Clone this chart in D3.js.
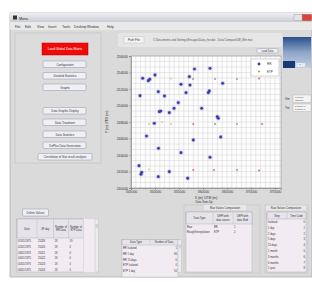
<!DOCTYPE html>
<html lang="en">
  <head>
    <meta charset="utf-8">
    <title>Menu</title>
    <script src="https://d3js.org/d3.v7.min.js"></script>
    <style>
      body { margin: 0; background: #fff; }
      text { font-family: "Liberation Sans", Arial, sans-serif; }
    </style>
  </head>
  <body>
    <div id="chart"></div>
    <script>

// scatter data (UTM coordinates)
var rrX = [347440, 348600, 348900, 350000, 358230, 361460, 357150, 355420, 357290, 364100,
           346880, 350690, 351980, 356460, 361100, 361310, 354850, 353960, 352980, 350900,
           351190, 359730, 363190, 362980, 349850, 348230, 357980, 363690, 350730, 355420,
           361460, 346670, 347080, 347230, 350690, 352980, 356810];
var rrY = [253300, 253000, 253180, 253700, 254420, 254510, 253490, 252570, 252480, 252690,
           251190, 251670, 251150, 251550, 251550, 251760, 250340, 249660, 249130, 249250,
           249330, 249660, 248450, 248640, 247840, 246300, 245820, 246180, 244810, 244280,
           243720, 242700, 241660, 241900, 241370, 241980, 241180];

var etpX = [371670, 357980, 372290, 357980, 362290, 371670];
var etpY = [253270, 247760, 247760, 242180, 242180, 242120];

var otherX = [353330, 357920, 362500, 367080, 348750, 351460, 353330, 362500, 367080, 348750, 367080];
var otherY = [253270, 253210, 253210, 253210, 247760, 248000, 247760, 247760, 247760, 242240, 242180];

var xTicks = [345000, 350000, 355000, 360000, 365000, 370000, 375000];
var yTicks = [240000, 242000, 244000, 246000, 248000, 250000, 252000, 254000, 256000];

var menuItems = ["File", "Edit", "View", "Insert", "Tools", "Desktop", "Window", "Help"];
var leftButtons = ["Configuration", "Detailed Statistics", "Graphs", "",
                   "Data Graphic Display", "Data Treatment", "Data Statistics",
                   "DePlus Data Generation", "Correlation of Stat result analysis"];

var dayHeader = ["Date", "XF day", "Number of RR Data", "Number of ETP Data"];
var dayRows = [["01/01/1975", "25284", "18", "19"],
               ["02/01/1975", "25020", "18", "0"],
               ["03/01/1975", "25021", "18", "0"],
               ["04/01/1975", "25022", "18", "0"],
               ["05/01/1975", "25023", "18", "0"],
               ["06/01/1975", "25024", "18", "0"]];

var typeHeader = ["Data Type", "Number of Data"];
var typeRows = [["RR   Isolated", "1"], ["RR     1 day", "96"], ["RR   15 days", "0"],
                ["ETP  Isolated", "0"], ["ETP    1 day", "10"]];

var maxHeader = ["Data Type", "DEPI with data source", "DEPI with data filled"];
var maxRows = [["Raw", "RR", "1"], ["Rough/Interpolation", "ETP", "2"]];

var stepHeader = ["Step", "Time Code"];
var stepRows = [["Isolated", "0"], ["1 day", "1"], ["2 days", "2"], ["5 days", "3"],
                ["15 days", "4"], ["1 month", "5"], ["3 months", "6"], ["6 months", "7"],
                ["1 year", "8"]];

var W = 312, H = 282;
var svg = d3.select("#chart").append("svg")
    .attr("width", W)
    .attr("height", H);

// window frame
svg.append("rect").attr("x", 10).attr("y", 13).attr("width", 302).attr("height", 264)
    .attr("fill", "#dadada").attr("stroke", "#9a9a9a").attr("stroke-width", 0.6);

var tg = svg.append("defs").append("linearGradient").attr("id", "tbar")
    .attr("x1", 0).attr("y1", 0).attr("x2", 0).attr("y2", 1);
tg.append("stop").attr("offset", 0).attr("stop-color", "#eef0f4");
tg.append("stop").attr("offset", 1).attr("stop-color", "#c9ccd4");
svg.append("rect").attr("x", 10).attr("y", 13).attr("width", 302).attr("height", 9)
    .attr("fill", "url(#tbar)");
svg.append("rect").attr("x", 13).attr("y", 15.5).attr("width", 4).attr("height", 4).attr("fill", "#333");
svg.append("text").attr("x", 19).attr("y", 19.5).attr("font-size", 3.6).attr("fill", "#222").text("Menu");
svg.append("rect").attr("x", 294).attr("y", 14.5).attr("width", 8).attr("height", 6)
    .attr("fill", "#e4e4e8").attr("stroke", "#999").attr("stroke-width", 0.4);
svg.append("rect").attr("x", 302.5).attr("y", 14.5).attr("width", 9).attr("height", 6)
    .attr("fill", "#d8443a").attr("stroke", "#a33").attr("stroke-width", 0.4);

// menu bar
svg.append("rect").attr("x", 10).attr("y", 22).attr("width", 302).attr("height", 8).attr("fill", "#e9e9e9");
var menuX = [15, 25, 37, 48, 62, 74, 87, 107];
svg.append("g").selectAll("text").data(menuItems).enter().append("text")
    .attr("x", (d, i) => menuX[i]).attr("y", 27.5)
    .attr("font-size", 3.4).attr("fill", "#333").text(d => d);

// left button panel
svg.append("rect").attr("x", 15).attr("y", 33).attr("width", 86).attr("height", 130)
    .attr("fill", "#dcdcdc").attr("stroke", "#b8b8b8").attr("stroke-width", 0.5);
svg.append("rect").attr("x", 42).attr("y", 43).attr("width", 46).attr("height", 12)
    .attr("fill", "#f00a0a").attr("stroke", "#b00").attr("stroke-width", 0.5);
svg.append("text").attr("x", 65).attr("y", 50.3).attr("text-anchor", "middle")
    .attr("font-size", 3.2).attr("fill", "#fff").text("Load Global Data Matrix");

var btnY = [61, 72.5, 84, 0, 107.5, 119, 131, 142, 153.5];
var btnG = svg.append("g").selectAll("g").data(leftButtons).enter()
    .filter(d => d !== "")
    .append("g");
btnG.append("rect")
    .attr("x", d => d.length > 24 ? 38 : 43)
    .attr("y", d => btnY[leftButtons.indexOf(d)])
    .attr("width", d => d.length > 24 ? 54 : 43)
    .attr("height", 6.5).attr("rx", 1)
    .attr("fill", "#eef0f6").attr("stroke", "#8a8a99").attr("stroke-width", 0.45);
btnG.append("text")
    .attr("x", 65)
    .attr("y", d => btnY[leftButtons.indexOf(d)] + 4.5)
    .attr("text-anchor", "middle").attr("font-size", 2.9).attr("fill", "#333")
    .text(d => d);

// path bar
svg.append("rect").attr("x", 118).attr("y", 33).attr("width", 164).attr("height", 14).attr("fill", "#e6e6e6");
svg.append("rect").attr("x", 124).attr("y", 36.5).attr("width", 20).attr("height", 6.5)
    .attr("fill", "#f4f4f4").attr("stroke", "#bbb").attr("stroke-width", 0.4);
svg.append("text").attr("x", 134).attr("y", 41).attr("text-anchor", "middle")
    .attr("font-size", 3).attr("fill", "#333").text("Path File");
svg.append("text").attr("x", 153).attr("y", 41).attr("font-size", 2.8).attr("fill", "#555")
    .text("C:\\Documents and Settings\\Ensayos\\Data_hor.dat - Data Compare\\DB_Mer.mat");
svg.append("rect").attr("x", 257).attr("y", 48.5).attr("width", 21).attr("height", 4.5).attr("rx", 1)
    .attr("fill", "#eef0f6").attr("stroke", "#8a8a99").attr("stroke-width", 0.4);
svg.append("text").attr("x", 267.5).attr("y", 52).attr("text-anchor", "middle")
    .attr("font-size", 2.6).attr("fill", "#333").text("Load Data");

// logo
var lg = svg.select("defs").append("linearGradient").attr("id", "logo")
    .attr("x1", 0).attr("y1", 0).attr("x2", 0).attr("y2", 1);
lg.append("stop").attr("offset", 0).attr("stop-color", "#2b4f8c");
lg.append("stop").attr("offset", 0.5).attr("stop-color", "#8ea6c8");
lg.append("stop").attr("offset", 1).attr("stop-color", "#c2cfe0");
svg.append("rect").attr("x", 283).attr("y", 37).attr("width", 28).attr("height", 31).attr("fill", "url(#logo)");
svg.append("rect").attr("x", 283).attr("y", 61).attr("width", 12).attr("height", 7).attr("fill", "#163a78");
svg.append("text").attr("x", 296).attr("y", 66.5).attr("font-size", 5).attr("font-weight", "bold")
    .attr("fill", "#fff").text("IEM");

// coordinate boxes
["Xm", "Ym"].forEach(function(lab, i) {
    var yy = 95 + i * 9;
    svg.append("text").attr("x", 285).attr("y", yy + 4.5).attr("font-size", 3).attr("fill", "#333").text(lab);
    svg.append("rect").attr("x", 293).attr("y", yy).attr("width", 18).attr("height", 7.5)
        .attr("fill", "#f4f4f4").attr("stroke", "#aaa").attr("stroke-width", 0.4);
    svg.append("text").attr("x", 295).attr("y", yy + 3).attr("font-size", 2.5).attr("fill", "#444")
        .text(i == 0 ? "347000" : "243000 1");
    svg.append("text").attr("x", 295).attr("y", yy + 6.3).attr("font-size", 2.5).attr("fill", "#444")
        .text(i == 0 ? "350000" : "248000 1");
});

// scatter plot
var plot = {left: 131, right: 281, top: 56, bottom: 188};
var x = d3.scaleLinear().domain([345000, 376250]).range([plot.left, plot.right]);
var y = d3.scaleLinear().domain([240000, 256000]).range([plot.bottom, plot.top]);

svg.append("rect").attr("x", plot.left).attr("y", plot.top)
    .attr("width", plot.right - plot.left).attr("height", plot.bottom - plot.top)
    .attr("fill", "#fdfdfd");

var grid = svg.append("g").attr("stroke", "#d2d2d2").attr("stroke-width", 0.5);
grid.selectAll("line.v").data(d3.range(345000, 376250, 1000)).enter().append("line")
    .attr("x1", d => x(d)).attr("x2", d => x(d))
    .attr("y1", plot.top).attr("y2", plot.bottom);
grid.selectAll("line.h").data(d3.range(240000, 256001, 2000 / 3)).enter().append("line")
    .attr("y1", d => y(d)).attr("y2", d => y(d))
    .attr("x1", plot.left).attr("x2", plot.right);

svg.append("g")
    .attr("transform", `translate(0, ${plot.bottom})`)
    .call(d3.axisBottom(x).tickValues(xTicks).tickSize(2).tickPadding(1).tickFormat(d3.format("d")))
    .call(g => g.selectAll("text").attr("font-size", 3.4).attr("fill", "#333"))
    .call(g => g.select(".domain").attr("stroke", "#666").attr("stroke-width", 0.5))
    .call(g => g.selectAll(".tick line").attr("stroke", "#666").attr("stroke-width", 0.4));

svg.append("g")
    .attr("transform", `translate(${plot.left}, 0)`)
    .call(d3.axisLeft(y).tickValues(yTicks).tickSize(2).tickPadding(1).tickFormat(d3.format("d")))
    .call(g => g.selectAll("text").attr("font-size", 3.4).attr("fill", "#333"))
    .call(g => g.select(".domain").attr("stroke", "#666").attr("stroke-width", 0.5))
    .call(g => g.selectAll(".tick line").attr("stroke", "#666").attr("stroke-width", 0.4));

svg.append("rect").attr("x", plot.left).attr("y", plot.top)
    .attr("width", plot.right - plot.left).attr("height", plot.bottom - plot.top)
    .attr("fill", "none").attr("stroke", "#888").attr("stroke-width", 0.5);

svg.append("text").attr("x", (plot.left + plot.right) / 2).attr("y", 199)
    .attr("text-anchor", "middle").attr("font-size", 3.4).attr("fill", "#333").text("X (m) UTM (m)");
svg.append("text").attr("transform", "translate(108, 122) rotate(-90)")
    .attr("text-anchor", "middle").attr("font-size", 3.4).attr("fill", "#333").text("Y (m) UTM (m)");

var pts = svg.append("g");
pts.selectAll("circle.o").data(otherX).enter().append("circle")
    .attr("cx", d => x(d)).attr("cy", (d, i) => y(otherY[i])).attr("r", 1)
    .attr("fill", (d, i) => otherX[i] < 354000 ? "#d8cf8a" : "#9c9c9c");
pts.selectAll("circle.e").data(etpX).enter().append("circle")
    .attr("cx", d => x(d)).attr("cy", (d, i) => y(etpY[i])).attr("r", 1.1)
    .attr("fill", "#e07a7a");
pts.selectAll("circle.halo").data(rrX).enter().append("circle")
    .attr("cx", d => x(d)).attr("cy", (d, i) => y(rrY[i])).attr("r", 2.3)
    .attr("fill", "#9da0e0").attr("opacity", 0.5);
pts.selectAll("circle.r").data(rrX).enter().append("circle")
    .attr("cx", d => x(d)).attr("cy", (d, i) => y(rrY[i])).attr("r", 1.4)
    .attr("fill", "#3a3aa8");

// legend
svg.append("rect").attr("x", 251).attr("y", 59).attr("width", 28).attr("height", 17)
    .attr("fill", "#fff").attr("stroke", "#999").attr("stroke-width", 0.4);
svg.append("circle").attr("cx", 259).attr("cy", 64).attr("r", 1.4).attr("fill", "#3a3aa8");
svg.append("text").attr("x", 267).attr("y", 65.2).attr("font-size", 3).attr("fill", "#333").text("RR");
svg.append("circle").attr("cx", 259).attr("cy", 71.5).attr("r", 1.1).attr("fill", "#e07a7a");
svg.append("text").attr("x", 267).attr("y", 72.7).attr("font-size", 3).attr("fill", "#333").text("ETP");

// tables
function drawTable(x0, y0, colW, headH, rowH, header, rows, bodyH, align) {
    var g = svg.append("g");
    var totW = d3.sum(colW);
    g.append("rect").attr("x", x0).attr("y", y0).attr("width", totW).attr("height", headH + bodyH)
        .attr("fill", "#f2ebf2").attr("stroke", "#a9a3ad").attr("stroke-width", 0.4);
    g.append("rect").attr("x", x0).attr("y", y0).attr("width", totW).attr("height", headH)
        .attr("fill", "#e6e3ea").attr("stroke", "#a9a3ad").attr("stroke-width", 0.4);
    var cx = x0;
    colW.forEach(function(w, c) {
        g.append("line").attr("x1", cx).attr("x2", cx).attr("y1", y0).attr("y2", y0 + headH)
            .attr("stroke", "#b5b0ba").attr("stroke-width", 0.4);
        var words = header[c].split(" ");
        var lines = words.length > 3 ? [words.slice(0, 2).join(" "), words.slice(2).join(" ")] : [header[c]];
        lines.forEach(function(l, k) {
            g.append("text").attr("x", cx + w / 2)
                .attr("y", y0 + headH / 2 + 1 + (k - (lines.length - 1) / 2) * 3.2)
                .attr("text-anchor", "middle").attr("font-size", 2.6).attr("fill", "#333").text(l);
        });
        rows.forEach(function(r, j) {
            var right = align[c] == "end";
            g.append("text").attr("x", right ? cx + w - 1 : cx + 1)
                .attr("y", y0 + headH + rowH * j + rowH * 0.7)
                .attr("text-anchor", right ? "end" : "start")
                .attr("font-size", 2.6).attr("fill", "#333").text(r[c]);
        });
        cx += w;
    });
    return g;
}

function scrollBar(x0, y0, h) {
    svg.append("rect").attr("x", x0).attr("y", y0).attr("width", 3.5).attr("height", h)
        .attr("fill", "#ececec").attr("stroke", "#aaa").attr("stroke-width", 0.3);
    svg.append("rect").attr("x", x0 + 0.4).attr("y", y0 + 5).attr("width", 2.7).attr("height", 4)
        .attr("fill", "#cfd3dc");
}

svg.append("rect").attr("x", 22.5).attr("y", 209).attr("width", 26).attr("height", 7).attr("rx", 1)
    .attr("fill", "#eef0f6").attr("stroke", "#8a8a99").attr("stroke-width", 0.45);
svg.append("text").attr("x", 35.5).attr("y", 213.6).attr("text-anchor", "middle")
    .attr("font-size", 2.9).attr("fill", "#333").text("Delete Values");

drawTable(17, 219, [20, 16.5, 15, 15], 19, 5.8, dayHeader, dayRows, 34,
          ["start", "start", "start", "start"]);
svg.append("rect").attr("x", 83.5).attr("y", 219).attr("width", 11.5).attr("height", 53).attr("fill", "#f2ebf2");
scrollBar(95, 219, 53);

drawTable(122, 239.5, [28, 28], 5.5, 5.8, typeHeader, typeRows, 32, ["start", "end"]);
scrollBar(178, 239.5, 33);

svg.append("text").attr("x", 204).attr("y", 203).attr("text-anchor", "middle")
    .attr("font-size", 2.8).attr("fill", "#333").text("Data Sum-Up");
svg.append("rect").attr("x", 184).attr("y", 205).attr("width", 76).attr("height", 68)
    .attr("fill", "none").attr("stroke", "#b8b8b8").attr("stroke-width", 0.4);
svg.append("rect").attr("x", 204).attr("y", 205).attr("width", 42).attr("height", 5).attr("fill", "#e8e8ea");
svg.append("text").attr("x", 225).attr("y", 208.8).attr("text-anchor", "middle")
    .attr("font-size", 2.7).attr("fill", "#333").text("Max Values Comparation");
drawTable(186, 212, [27, 20, 19], 12, 5, maxHeader, maxRows, 48, ["start", "start", "start"]);

svg.append("rect").attr("x", 265).attr("y", 205).attr("width", 43).attr("height", 68)
    .attr("fill", "none").attr("stroke", "#b8b8b8").attr("stroke-width", 0.4);
svg.append("rect").attr("x", 266).attr("y", 205.5).attr("width", 40).attr("height", 5).attr("fill", "#e8e8ea");
svg.append("text").attr("x", 286).attr("y", 209.2).attr("text-anchor", "middle")
    .attr("font-size", 2.7).attr("fill", "#333").text("Raw Values Comparation");
drawTable(267, 212, [20, 19], 7, 5.8, stepHeader, stepRows, 53, ["start", "end"]);

    </script>
  </body>
</html>
